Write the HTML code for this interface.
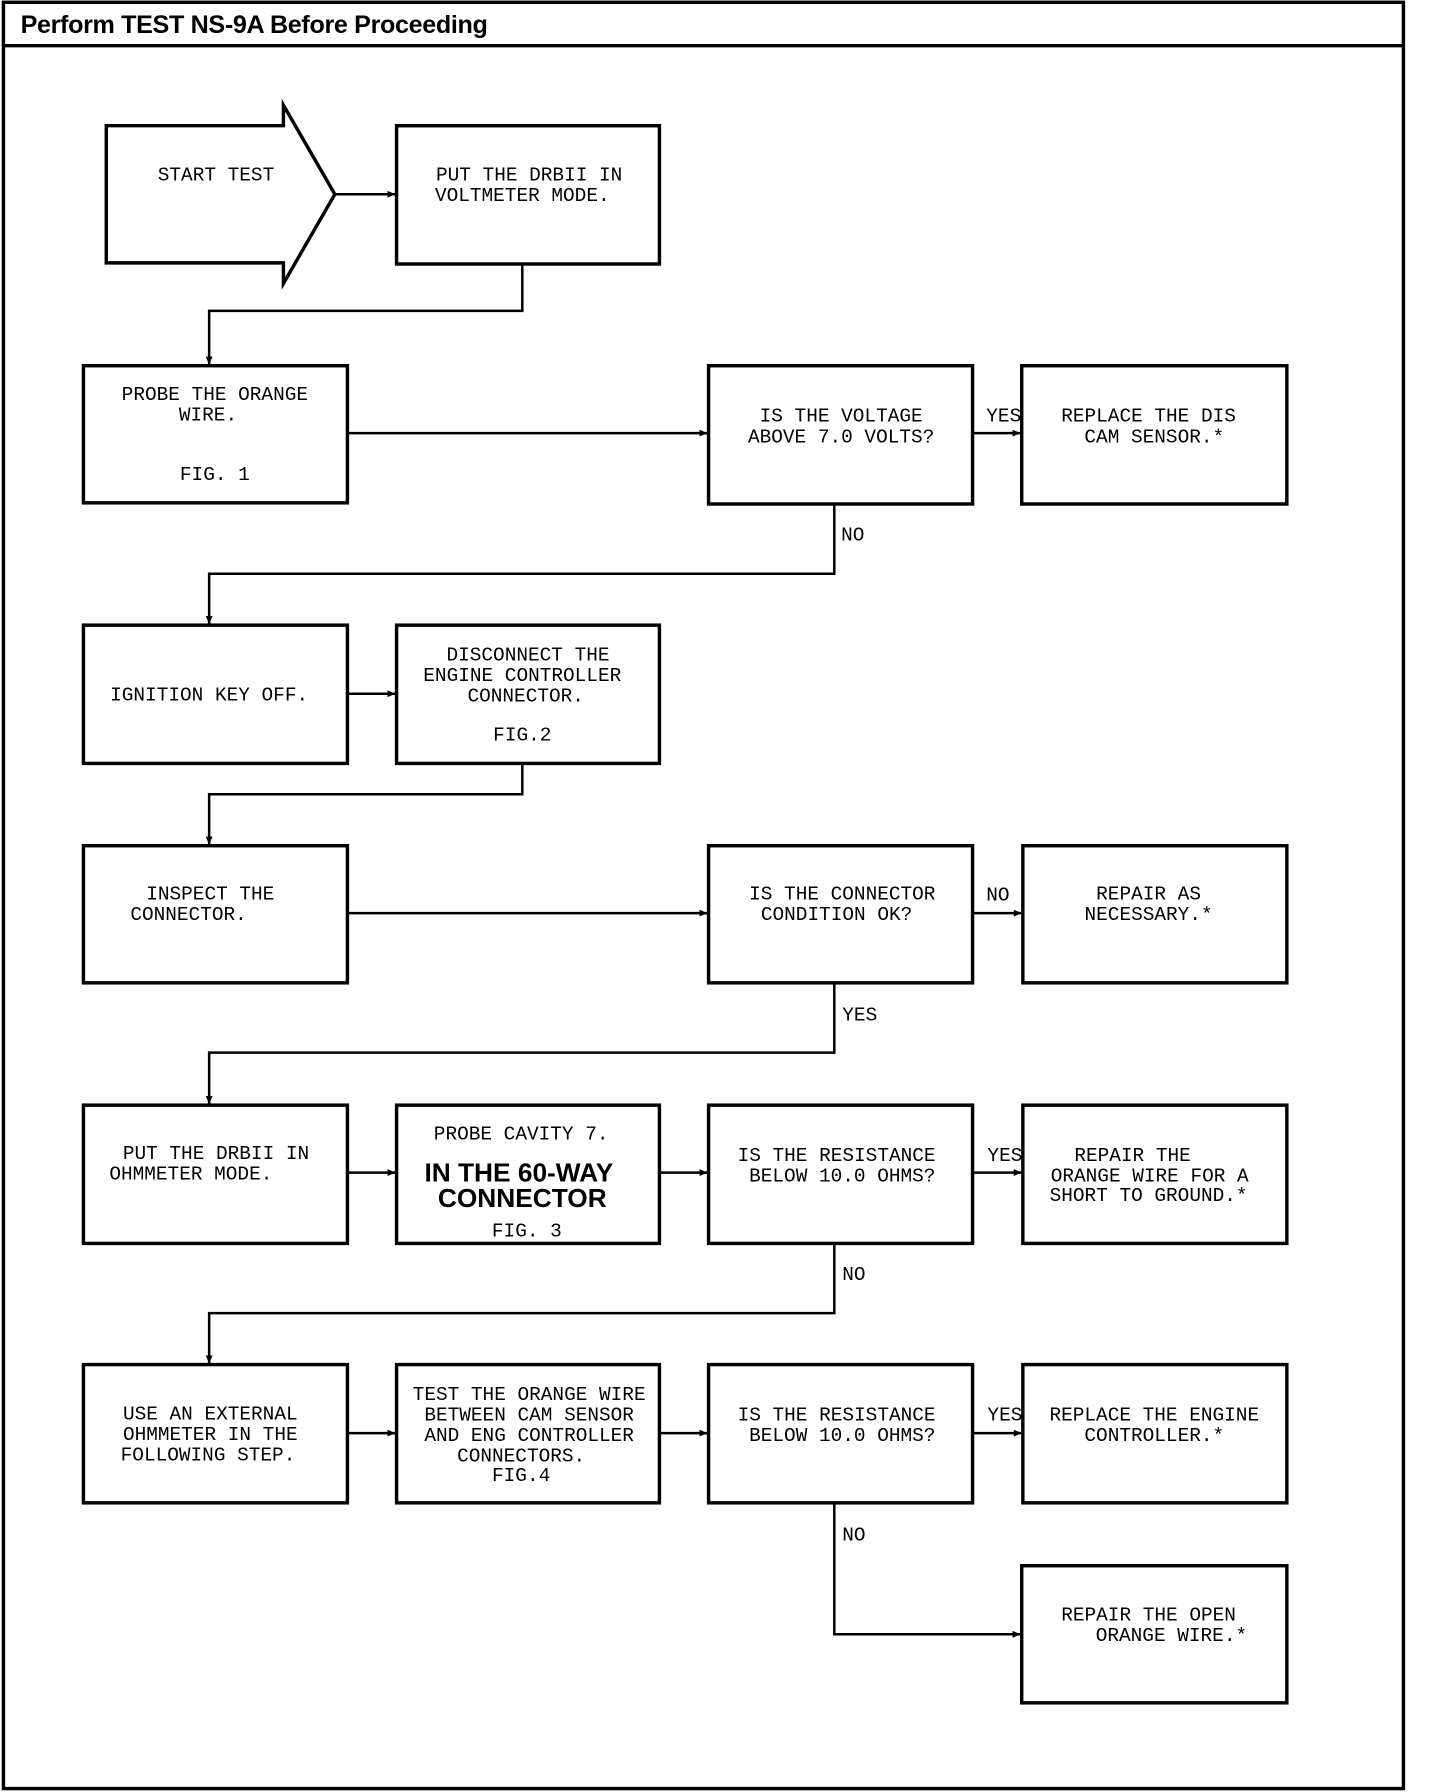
<!DOCTYPE html>
<html><head><meta charset="utf-8"><style>
html,body{margin:0;padding:0;background:#fff}
svg{display:block}
text{font-family:"Liberation Mono",monospace;font-size:17px;fill:#000}
.b{font-family:"Liberation Sans",sans-serif;font-weight:bold;font-size:23px}
.h{font-family:"Liberation Sans",sans-serif;font-weight:bold;font-size:22px;letter-spacing:-0.3px}
</style></head><body>
<svg width="1440" height="1792" viewBox="0 0 1260 1568" preserveAspectRatio="none" xmlns="http://www.w3.org/2000/svg">
<defs><marker id="a" markerWidth="8" markerHeight="8" refX="7" refY="4" orient="auto" markerUnits="userSpaceOnUse"><path d="M0,1 L7,4 L0,7z" fill="#000"/></marker></defs>
<g fill="none" stroke="#000" stroke-width="3">
<rect x="3" y="2" width="1225" height="1563"/>
<line x1="3" y1="40" x2="1228" y2="40"/>
<path d="M93,110 H248 V92 L293,170 L248,248 V230 H93 Z"/>
<rect x="347" y="110" width="230" height="121"/>
<rect x="73" y="320" width="231" height="120"/>
<rect x="620" y="320" width="231" height="121"/>
<rect x="894" y="320" width="232" height="121"/>
<rect x="73" y="547" width="231" height="121"/>
<rect x="347" y="547" width="230" height="121"/>
<rect x="73" y="740" width="231" height="120"/>
<rect x="620" y="740" width="231" height="120"/>
<rect x="895" y="740" width="231" height="120"/>
<rect x="73" y="967" width="231" height="121"/>
<rect x="347" y="967" width="230" height="121"/>
<rect x="620" y="967" width="231" height="121"/>
<rect x="895" y="967" width="231" height="121"/>
<rect x="73" y="1194" width="231" height="121"/>
<rect x="347" y="1194" width="230" height="121"/>
<rect x="620" y="1194" width="231" height="121"/>
<rect x="895" y="1194" width="231" height="121"/>
<rect x="894" y="1370" width="232" height="120"/>
</g>
<g fill="none" stroke="#000" stroke-width="2.2" marker-end="url(#a)">
<path d="M293,170 H346"/>
<path d="M457,231 V272 H183 V319"/>
<path d="M304,379 H619"/>
<path d="M851,379 H893"/>
<path d="M730,441 V502 H183 V546"/>
<path d="M304,607 H346"/>
<path d="M457,668 V695 H183 V739"/>
<path d="M304,799 H619"/>
<path d="M851,799 H894"/>
<path d="M730,860 V921 H183 V966"/>
<path d="M304,1026 H346"/>
<path d="M577,1026 H619"/>
<path d="M851,1026 H894"/>
<path d="M730,1088 V1149 H183 V1193"/>
<path d="M304,1254 H346"/>
<path d="M577,1254 H619"/>
<path d="M851,1254 H894"/>
<path d="M730,1315 V1430 H893"/>
</g>
<text class="h" x="18" y="29">Perform TEST  NS-9A Before Proceeding</text>
<g text-anchor="middle">
<text x="189" y="158">START TEST</text>
<text x="463" y="158">PUT THE DRBII IN</text>
<text x="457" y="176">VOLTMETER MODE.</text>
<text x="188" y="350">PROBE THE ORANGE</text>
<text x="182" y="368">WIRE.</text>
<text x="188" y="420">FIG. 1</text>
<text x="736" y="369">IS THE VOLTAGE</text>
<text x="736" y="387">ABOVE 7.0 VOLTS?</text>
<text x="1005" y="369">REPLACE THE DIS</text>
<text x="1010" y="387">CAM SENSOR.*</text>
<text x="183" y="613">IGNITION KEY OFF.</text>
<text x="462" y="578">DISCONNECT THE</text>
<text x="457" y="596">ENGINE CONTROLLER</text>
<text x="460" y="614">CONNECTOR.</text>
<text x="457" y="648">FIG.2</text>
<text x="184" y="787">INSPECT THE</text>
<text x="165" y="805">CONNECTOR.</text>
<text x="737" y="787">IS THE CONNECTOR</text>
<text x="732" y="805">CONDITION OK?</text>
<text x="1005" y="787">REPAIR AS</text>
<text x="1005" y="805">NECESSARY.*</text>
<text x="189" y="1014">PUT THE DRBII IN</text>
<text x="167" y="1032">OHMMETER MODE.</text>
<text x="456" y="997">PROBE CAVITY 7.</text>
<text class="b" x="454" y="1034">IN THE 60-WAY</text>
<text class="b" x="457" y="1056">CONNECTOR</text>
<text x="461" y="1082">FIG. 3</text>
<text x="732" y="1016">IS THE RESISTANCE</text>
<text x="737" y="1034">BELOW 10.0 OHMS?</text>
<text x="991" y="1016">REPAIR THE</text>
<text x="1006" y="1034">ORANGE WIRE FOR A</text>
<text x="1005" y="1051">SHORT TO GROUND.*</text>
<text x="184" y="1242">USE AN EXTERNAL</text>
<text x="184" y="1260">OHMMETER IN THE</text>
<text x="182" y="1278">FOLLOWING STEP.</text>
<text x="463" y="1225">TEST THE ORANGE WIRE</text>
<text x="463" y="1243">BETWEEN CAM SENSOR</text>
<text x="463" y="1261">AND ENG CONTROLLER</text>
<text x="456" y="1279">CONNECTORS.</text>
<text x="456" y="1296">FIG.4</text>
<text x="732" y="1243">IS THE RESISTANCE</text>
<text x="737" y="1261">BELOW 10.0 OHMS?</text>
<text x="1010" y="1243">REPLACE THE ENGINE</text>
<text x="1010" y="1261">CONTROLLER.*</text>
<text x="1005" y="1418">REPAIR THE OPEN</text>
<text x="1025" y="1436">ORANGE WIRE.*</text>
</g>
<text x="863" y="369">YES</text>
<text x="736" y="473">NO</text>
<text x="863" y="788">NO</text>
<text x="737" y="893">YES</text>
<text x="864" y="1016">YES</text>
<text x="737" y="1120">NO</text>
<text x="864" y="1243">YES</text>
<text x="737" y="1348">NO</text>
</svg>
</body></html>
